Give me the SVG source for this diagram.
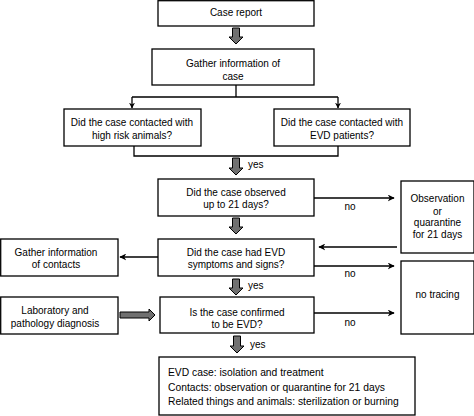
<svg xmlns="http://www.w3.org/2000/svg" width="474" height="416" viewBox="0 0 474 416">
<defs>
<style>
.box{fill:#fff;stroke:#000;stroke-width:1.3}
.t{font-family:"Liberation Sans",Arial,sans-serif;font-size:10px;fill:#000;text-anchor:middle}
.tl{font-family:"Liberation Sans",Arial,sans-serif;font-size:10px;fill:#000;text-anchor:start}
.tb{font-size:10.3px}
.ln{fill:none;stroke:#000;stroke-width:1.3}
.big{fill:#707070;stroke:#000;stroke-width:1}
</style>
<marker id="ah" viewBox="0 0 10 10" refX="9" refY="5" markerWidth="7" markerHeight="7" markerUnits="userSpaceOnUse" orient="auto">
<path d="M0,0 L10,5 L0,10 L3,5 Z" fill="#000"/>
</marker>
<marker id="ahs" viewBox="0 0 10 10" refX="9" refY="5" markerWidth="6" markerHeight="6" markerUnits="userSpaceOnUse" orient="auto">
<path d="M0,0 L10,5 L0,10 L3,5 Z" fill="#000"/>
</marker>
</defs>
<rect width="474" height="416" fill="#fff"/>

<g id="n1"><rect class="box" x="158" y="0.7" width="156" height="25.3"/><text class="t" x="236" y="16">Case report</text></g>
<g id="n2"><rect class="box" x="152" y="49" width="162" height="36"/><text class="t" x="233" y="67">Gather information of</text><text class="t" x="233" y="80">case</text></g>
<g id="n3"><rect class="box" x="64" y="109" width="137" height="37"/><text class="t" x="132" y="126">Did the case contacted with</text><text class="t" x="132" y="139">high risk animals?</text></g>
<g id="n4"><rect class="box" x="274" y="109" width="136" height="37"/><text class="t" x="342" y="126">Did the case contacted with</text><text class="t" x="342" y="139">EVD patients?</text></g>
<g id="n5"><rect class="box" x="158" y="179" width="156" height="37"/><text class="t" x="236" y="196">Did the case observed</text><text class="t" x="236" y="208">up to 21 days?</text></g>
<g id="n6"><rect class="box" x="401" y="181" width="73" height="72"/><text class="t" x="437.5" y="202">Observation</text><text class="t" x="437.5" y="215">or</text><text class="t" x="437.5" y="226">quarantine</text><text class="t" x="437.5" y="238">for 21 days</text></g>
<g id="n7"><rect class="box" x="158" y="239" width="156" height="37"/><text class="t" x="236" y="256">Did the case had EVD</text><text class="t" x="236" y="268">symptoms and signs?</text></g>
<g id="n8"><rect class="box" x="0.7" y="239" width="117.3" height="37"/><text class="t" x="56" y="256">Gather information</text><text class="t" x="56" y="268">of contacts</text></g>
<g id="n9"><rect class="box" x="401" y="261" width="73" height="73"/><text class="t" x="437.5" y="298">no tracing</text></g>
<g id="n10"><rect class="box" x="160" y="297" width="154" height="36"/><text class="t" x="237" y="316">Is the case confirmed</text><text class="t" x="237" y="328">to be EVD?</text></g>
<g id="n11"><rect class="box" x="0.7" y="297" width="117.3" height="37"/><text class="t" x="55" y="314">Laboratory and</text><text class="t" x="55" y="327">pathology diagnosis</text></g>
<g id="n12"><rect class="box" x="159" y="357" width="256" height="58"/><text class="tl tb" x="168" y="376">EVD case: isolation and treatment</text><text class="tl tb" x="168" y="391">Contacts: observation or quarantine for 21 days</text><text class="tl tb" x="168" y="405">Related things and animals: sterilization or burning</text></g>

<g id="connectors">
<path class="big" d="M232.5,28 H239.5 V37 H243 L236,44 L229,37 H232.5 Z"/>
<path class="ln" d="M236,85 V97 M132,97 H338"/>
<path class="ln" d="M132,97 V108" marker-end="url(#ahs)"/>
<path class="ln" d="M338,97 V108" marker-end="url(#ahs)"/>
<path class="ln" d="M134,146 V156 H338 V146"/>
<path class="big" d="M232.5,158 H239.5 V168 H243 L236,175 L229,168 H232.5 Z"/>
<text class="tl" x="248" y="168">yes</text>
<path class="ln" d="M314,198 H394" marker-end="url(#ah)"/>
<text class="t" x="350" y="210">no</text>
<path class="big" d="M232.5,218 H239.5 V227 H243 L236,234 L229,227 H232.5 Z"/>
<path class="ln" d="M397,247 H319" marker-end="url(#ah)"/>
<path class="ln" d="M158,257 H120" marker-end="url(#ah)"/>
<path class="ln" d="M314,266 H394" marker-end="url(#ah)"/>
<text class="t" x="350" y="277">no</text>
<path class="big" d="M232.5,279 H239.5 V288 H243 L236,295 L229,288 H232.5 Z"/>
<text class="tl" x="248" y="289">yes</text>
<path class="big" d="M120,312 H149 V309 L155,315 L149,321 V318 H120 Z"/>
<path class="ln" d="M314,313 H394" marker-end="url(#ah)"/>
<text class="t" x="350" y="326">no</text>
<path class="big" d="M233.5,336 H240.5 V346 H244 L237,353 L230,346 H233.5 Z"/>
<text class="tl" x="250" y="348">yes</text>
</g>
</svg>
